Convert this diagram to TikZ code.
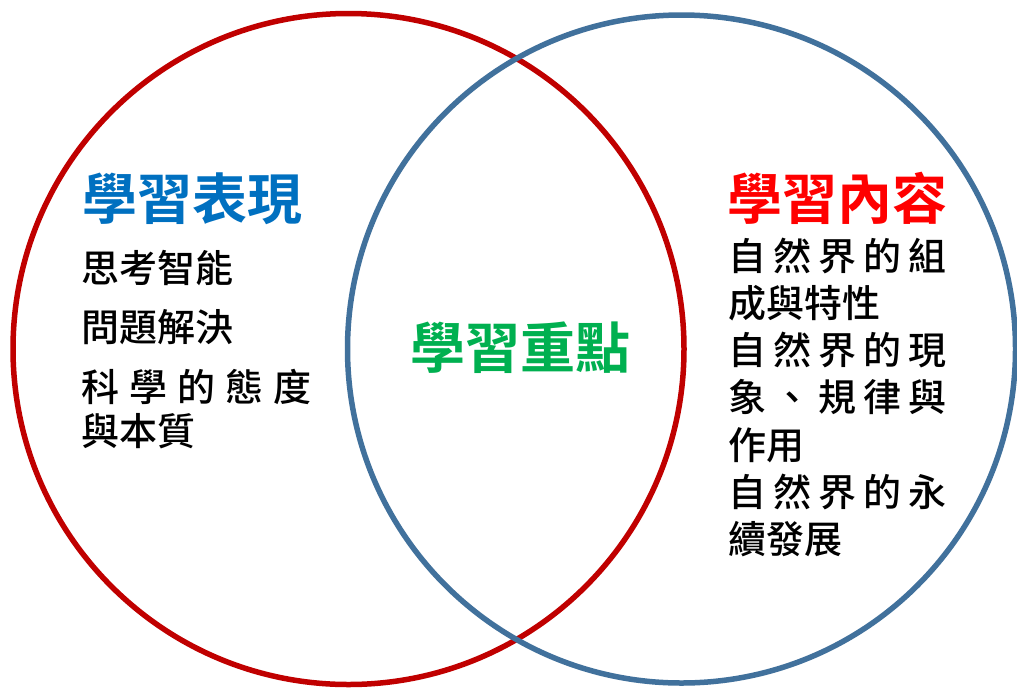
\documentclass[tikz,border=0pt]{standalone}
\usepackage{fontspec}
\newfontfamily\cjk{Noto Sans CJK TC Medium}
\newfontfamily\cjkb{Noto Sans CJK TC Bold}
\definecolor{cred}{HTML}{C00000}
\definecolor{cblue}{HTML}{41719C}
\definecolor{tblue}{HTML}{0070C0}
\definecolor{tred}{HTML}{FF0000}
\definecolor{tgreen}{HTML}{00B050}
\newcommand\gp{\kern 7pt}
\tikzset{
  ring/.style={line width=5.5pt},
  title/.style={inner sep=0pt, anchor=base west, font=\cjkb\fontsize{55}{55}\selectfont},
  body/.style={inner sep=0pt, anchor=base west, font=\cjk\fontsize{38}{38}\selectfont, text=black}
}
\begin{document}
\begin{tikzpicture}[x=1pt,y=-1pt]
\useasboundingbox (0,0) rectangle (1017,689);
\fill[white] (0,0) rectangle (1017,689);
\draw[ring, cred] (348.5,349) circle[radius=335.5];
\draw[ring, cblue] (681.5,349) circle[radius=334];
% left
\node[title, text=tblue] (lt) at (82,219) {學習表現};
\node[body] (l1) at (81,282) {思考智能};
\node[body] (l2) at (81,341) {問題解決};
\node[body] (l3) at (81,401) {科\kern 10pt 學\kern 10pt 的\kern 10pt 態\kern 10pt 度};
\node[body] (l4) at (81,445) {與本質};
% middle
\node[title, text=tgreen] (mt) at (410,368) {學習重點};
% right
\node[title, text=tred] (rt) at (727,219) {學習內容};
\node[body] (r1) at (728,270) {自\gp 然\gp 界\gp 的\gp 組};
\node[body] (r2) at (728,317.3) {成與特性};
\node[body] (r3) at (728,364.6) {自\gp 然\gp 界\gp 的\gp 現};
\node[body] (r4) at (728,411.9) {象\gp 、\gp 規\gp 律\gp 與};
\node[body] (r5) at (728,459.2) {作用};
\node[body] (r6) at (728,506.5) {自\gp 然\gp 界\gp 的\gp 永};
\node[body] (r7) at (728,553.8) {續發展};
\end{tikzpicture}
\end{document}
